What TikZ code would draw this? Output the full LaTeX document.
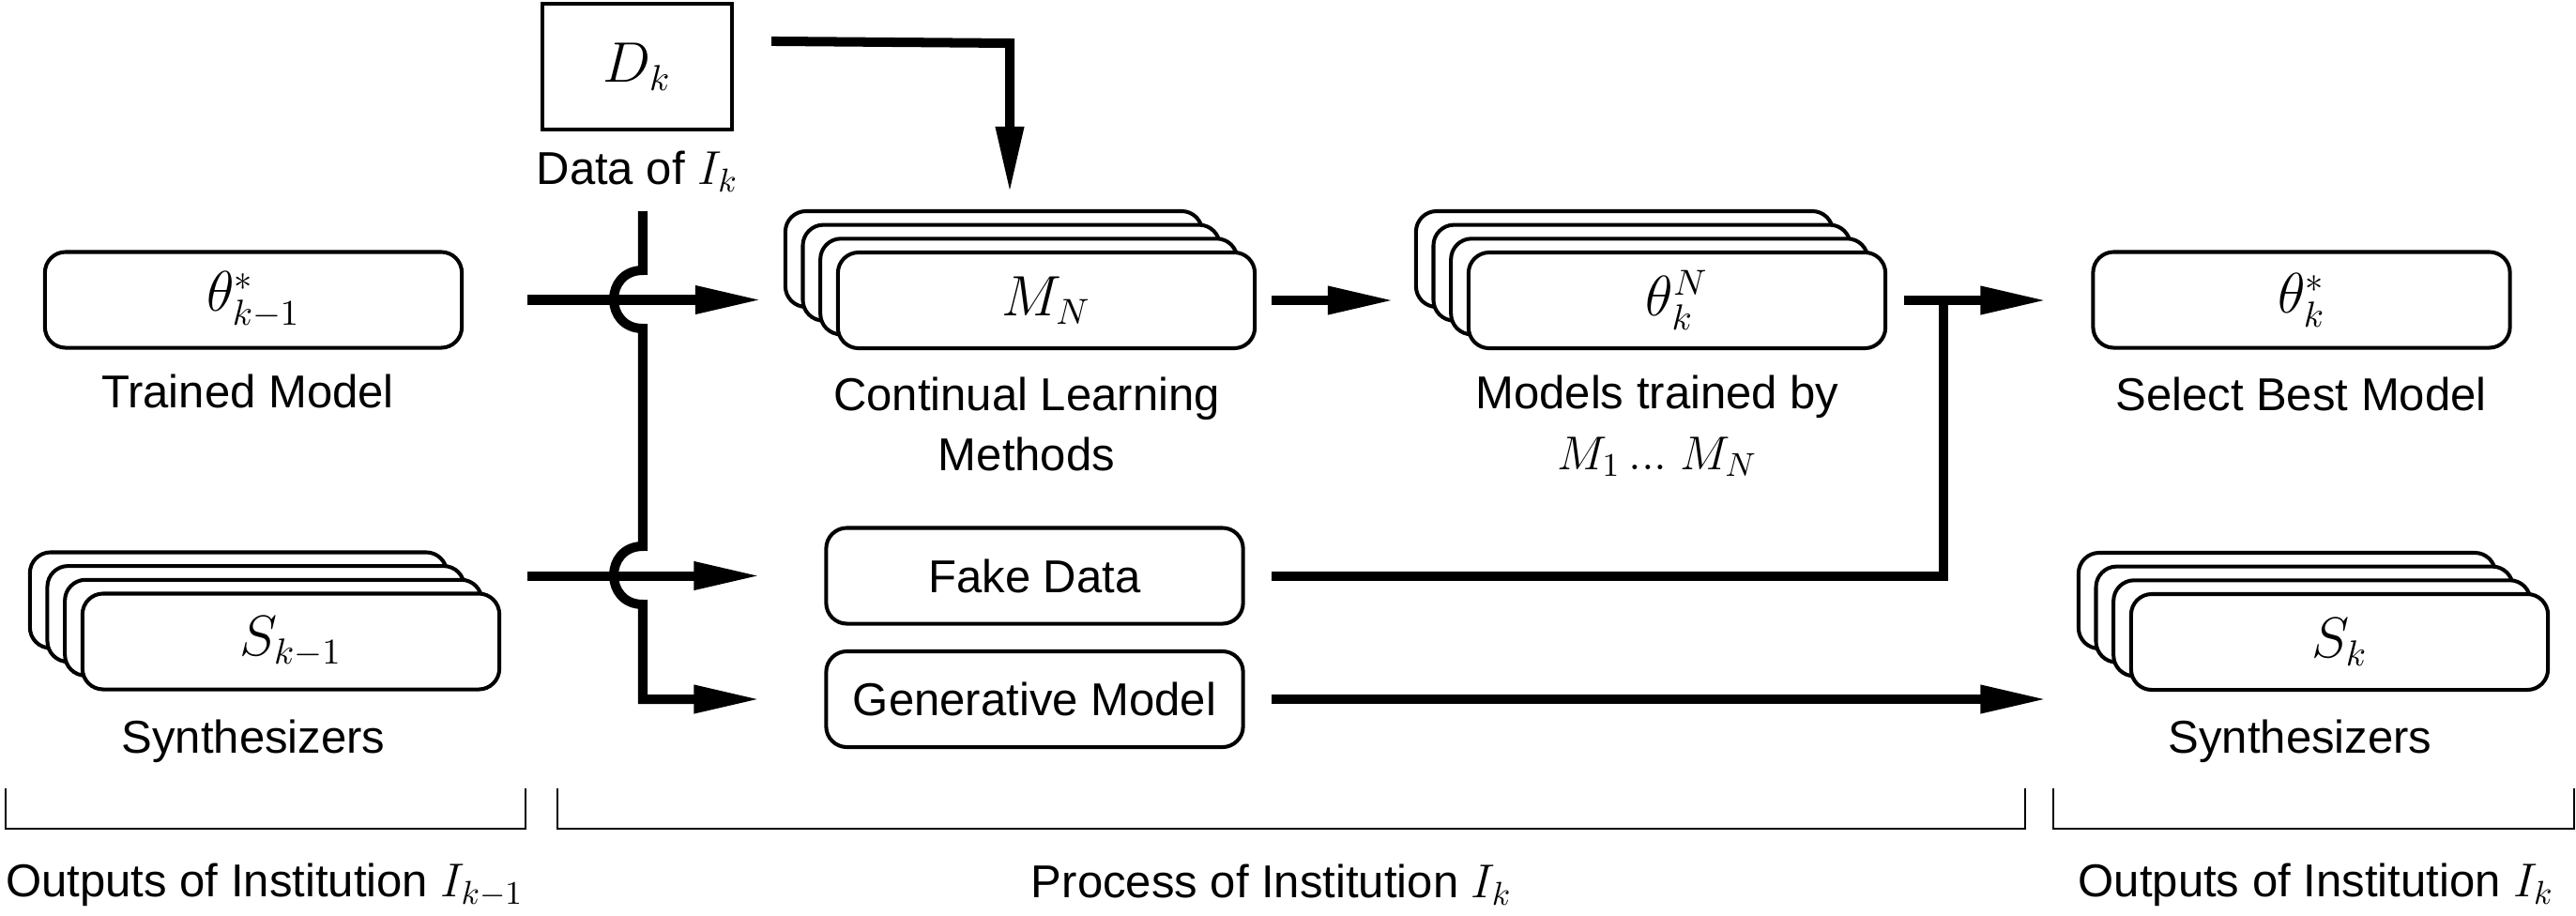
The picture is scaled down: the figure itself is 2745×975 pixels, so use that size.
\documentclass[tikz,border=0pt]{standalone}
\usepackage[no-math]{fontspec}
\setmainfont{Liberation Sans}
\usetikzlibrary{arrows.meta,calc}
\newcommand{\bxm}[1]{{\fontsize{16.2pt}{19pt}\selectfont$#1$}}
\begin{document}
\begin{tikzpicture}[x=0.01cm,y=-0.01cm,
  font=\fontsize{13.95pt}{18.4pt}\selectfont,
  box/.style={draw, line width=1.15pt, rounded corners=0.22cm, minimum width=4.44cm, minimum height=1.02cm, fill=white, inner sep=0pt},
  sqbox/.style={draw, line width=1.15pt, minimum width=2.02cm, minimum height=1.34cm, inner sep=0pt},
  lbl/.style={inner sep=0pt, align=center},
  conn/.style={line width=2.85pt},
  arr/.style={conn, -{Triangle[length=0.71cm,width=0.28cm]}},
  brk/.style={line width=0.6pt},
]
\useasboundingbox (0,0) rectangle (2745,975);

% ---------- left column ----------
\node[box] (th1) at (270,319.5) {\bxm{\theta^{*}_{k-1}}};
\node[lbl] (th1l) at (264,417) {Trained Model};

\node[box] (sa3) at (310-56,683.5-44) {};
\node[box] (sa2) at (310-37.4,683.5-29.4) {};
\node[box] (sa1) at (310-18.7,683.5-14.7) {};
\node[box] (sa) at (310,683.5) {\bxm{S_{k-1}}};
\node[lbl] (sal) at (270,790) {Synthesizers};

% ---------- data ----------
\node[sqbox] (D) at (679,71) {\bxm{D_k}};
\node[lbl] (Dl) at (679,183) {Data of $I_k$};

% ---------- continual learning stack ----------
\node[box] (cl3) at (1115-56,320-44) {};
\node[box] (cl2) at (1115-37.4,320-29.4) {};
\node[box] (cl1) at (1115-18.7,320-14.7) {};
\node[box] (cl) at (1115,320) {\bxm{M_N}};
\node[lbl] (cll) at (1094,452) {Continual Learning\\Methods};

% ---------- fake data / generative ----------
\node[box] (fake) at (1102.5,613.5) {Fake Data};
\node[box] (gen) at (1102.5,745) {Generative Model};

% ---------- theta^N stack ----------
\node[box] (tn3) at (1787-56,320-44) {};
\node[box] (tn2) at (1787-37.4,320-29.4) {};
\node[box] (tn1) at (1787-18.7,320-14.7) {};
\node[box] (tn) at (1787,320) {\bxm{\theta^{N}_{k}}};
\node[lbl] (tnl) at (1766,454) {Models trained by\\$M_1\,...\;M_N$};

% ---------- right column ----------
\node[box] (ts) at (2452.5,319.5) {\bxm{\theta^{*}_{k}}};
\node[lbl] (tsl) at (2452,420) {Select Best Model};

\node[box] (sb3) at (2493-56,684-44) {};
\node[box] (sb2) at (2493-37.4,684-29.4) {};
\node[box] (sb1) at (2493-18.7,684-14.7) {};
\node[box] (sb) at (2493,684) {\bxm{S_k}};
\node[lbl] (sbl) at (2451,790) {Synthesizers};

% ---------- connectors ----------
\coordinate (dcorner) at (1076,46);
\draw[arr] ($(D.north east)+(40,42)$) -- (dcorner) -- ($(dcorner |- cl3.north)+(0,-17)$);

\coordinate (vtop) at (685,225);
\draw[arr] (vtop) -- (685,288)
  .. controls (643.7,288) and (643.7,350) .. (685,350) -- (685,582)
  .. controls (643.7,582) and (643.7,644) .. (685,644) -- (685,745)
  -- ($(gen.west)+(-68,0)$);

\draw[arr] ($(th1.east)+(68,0)$) -- ($(cl3.west |- th1.east)+(-23,0)$);
\draw[arr] ($(sa.east |- fake.west)+(28,0)$) -- ($(fake.west)+(-68,0)$);

\draw[arr] ($(cl.east)+(16,0)$) -- ($(tn3.west |- cl.east)+(-21,0)$);
\draw[arr] ($(tn.east)+(18,0)$) -- ($(ts.west |- tn.east)+(-47,0)$);
\draw[conn] ($(fake.east)+(28.5,0)$) -- (2071,613.5) -- (2071,320);
\draw[arr] ($(gen.east)+(28.5,0)$) -- ($(ts.west |- gen.east)+(-47,0)$);

% ---------- brackets ----------
\draw[brk] (6,840) -- (6,883) -- (560,883) -- (560,840);
\draw[brk] (594,840) -- (594,883) -- (2158,883) -- (2158,840);
\draw[brk] (2188,840) -- (2188,883) -- (2743,883) -- (2743,840);

\node[lbl] (b1) at (282,943) {Outputs of Institution $I_{k-1}$};
\node[lbl] (b2) at (1355,943) {Process of Institution $I_k$};
\node[lbl] (b3) at (2468,943) {Outputs of Institution $I_k$};
\end{tikzpicture}
\end{document}
